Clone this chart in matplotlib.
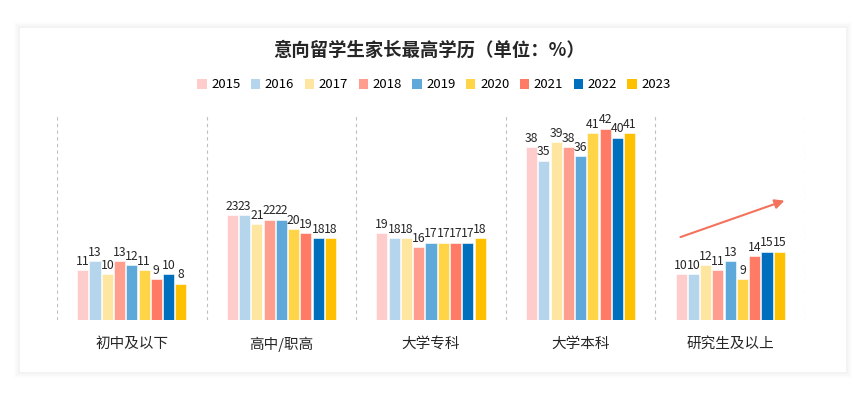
import matplotlib
matplotlib.use("Agg")
import matplotlib.pyplot as plt
from matplotlib.patches import Rectangle
import numpy as np

plt.rcParams['font.family'] = ['Noto Sans CJK SC', 'DejaVu Sans']

categories = ["初中及以下", "高中/职高", "大学专科", "大学本科", "研究生及以上"]
years = ["2015", "2016", "2017", "2018", "2019", "2020", "2021", "2022", "2023"]
v2015 = [11, 23, 19, 38, 10]
v2016 = [13, 23, 18, 35, 10]
v2017 = [10, 21, 18, 39, 12]
v2018 = [13, 22, 16, 38, 11]
v2019 = [12, 22, 17, 36, 13]
v2020 = [11, 20, 17, 41, 9]
v2021 = [9, 19, 17, 42, 14]
v2022 = [10, 18, 17, 40, 15]
v2023 = [8, 18, 18, 41, 15]
series = [v2015, v2016, v2017, v2018, v2019, v2020, v2021, v2022, v2023]
colors = ["#FFCCCC", "#B4D5EC", "#FFE6A0", "#FF9E8E", "#5EA9D9",
          "#FFD447", "#FF7B66", "#0070BE", "#FFC000"]

fig = plt.figure(figsize=(8.63, 3.99), dpi=100)
fig.patch.set_facecolor("white")

# card with soft shadow
W, H = 863, 399
for k, a in [(6, 0.012), (4, 0.015), (2, 0.02)]:
    fig.patches.append(Rectangle(((20 - k) / W, (399 - 372 - k) / H), (826 + 2 * k) / W,
                                 (344 + 2 * k) / H, transform=fig.transFigure,
                                 facecolor="black", alpha=a, edgecolor="none", zorder=-3))
fig.patches.append(Rectangle((20 / W, (399 - 372) / H), 826 / W, 344 / H,
                             transform=fig.transFigure, facecolor="white",
                             edgecolor="none", zorder=-2))

ax = fig.add_axes([57 / W, (399 - 320) / H, (805 - 57) / W, (320 - 115) / H])
ax.set_facecolor("none")
ax.set_zorder(2)

x = np.arange(len(categories))
spacing = 0.082
width = 0.074
for i, (vals, c) in enumerate(zip(series, colors)):
    pos = x + (i - 4) * spacing
    ax.bar(pos, vals, width=width, color=c, edgecolor="white", linewidth=0.4, zorder=3)
    for px, v in zip(pos, vals):
        ax.text(px, v + 0.5, str(v), ha="center", va="bottom", fontsize=8.8,
                color="#262626", zorder=4)

for b in np.arange(-0.5, len(categories) + 0.5, 1):
    ax.axvline(b, color="#BFBFBF", linestyle=(0, (3, 3)), linewidth=0.8, zorder=1)

ax.set_xlim(-0.5, len(categories) - 0.5)
ax.set_ylim(0, 45)
ax.set_xticks(x)
ax.set_xticklabels(categories, fontsize=10.5, color="#262626")
ax.tick_params(axis="x", length=0, pad=12)
ax.set_yticks([])
for s in ax.spines.values():
    s.set_visible(False)

ax.annotate("", xy=(4.38, 26.4), xytext=(3.65, 18.0),
            arrowprops=dict(arrowstyle="-|>", color="#F4715D", lw=1.5,
                            mutation_scale=14), zorder=5)

fig.text(0.497, 1 - 50 / H, "意向留学生家长最高学历（单位：%）", ha="center", va="center",
         fontsize=13.2, fontweight="bold", color="#262626")

handles = [Rectangle((0, 0), 1, 1, facecolor=c, edgecolor="none") for c in colors]
fig.legend(handles, years, loc="center", bbox_to_anchor=(0.503, 1 - 85 / H), ncol=9,
           frameon=False, fontsize=9.5, handlelength=0.7, handleheight=0.7,
           handletextpad=0.35, columnspacing=0.8)

fig.savefig("out.png", dpi=100, facecolor="white")
